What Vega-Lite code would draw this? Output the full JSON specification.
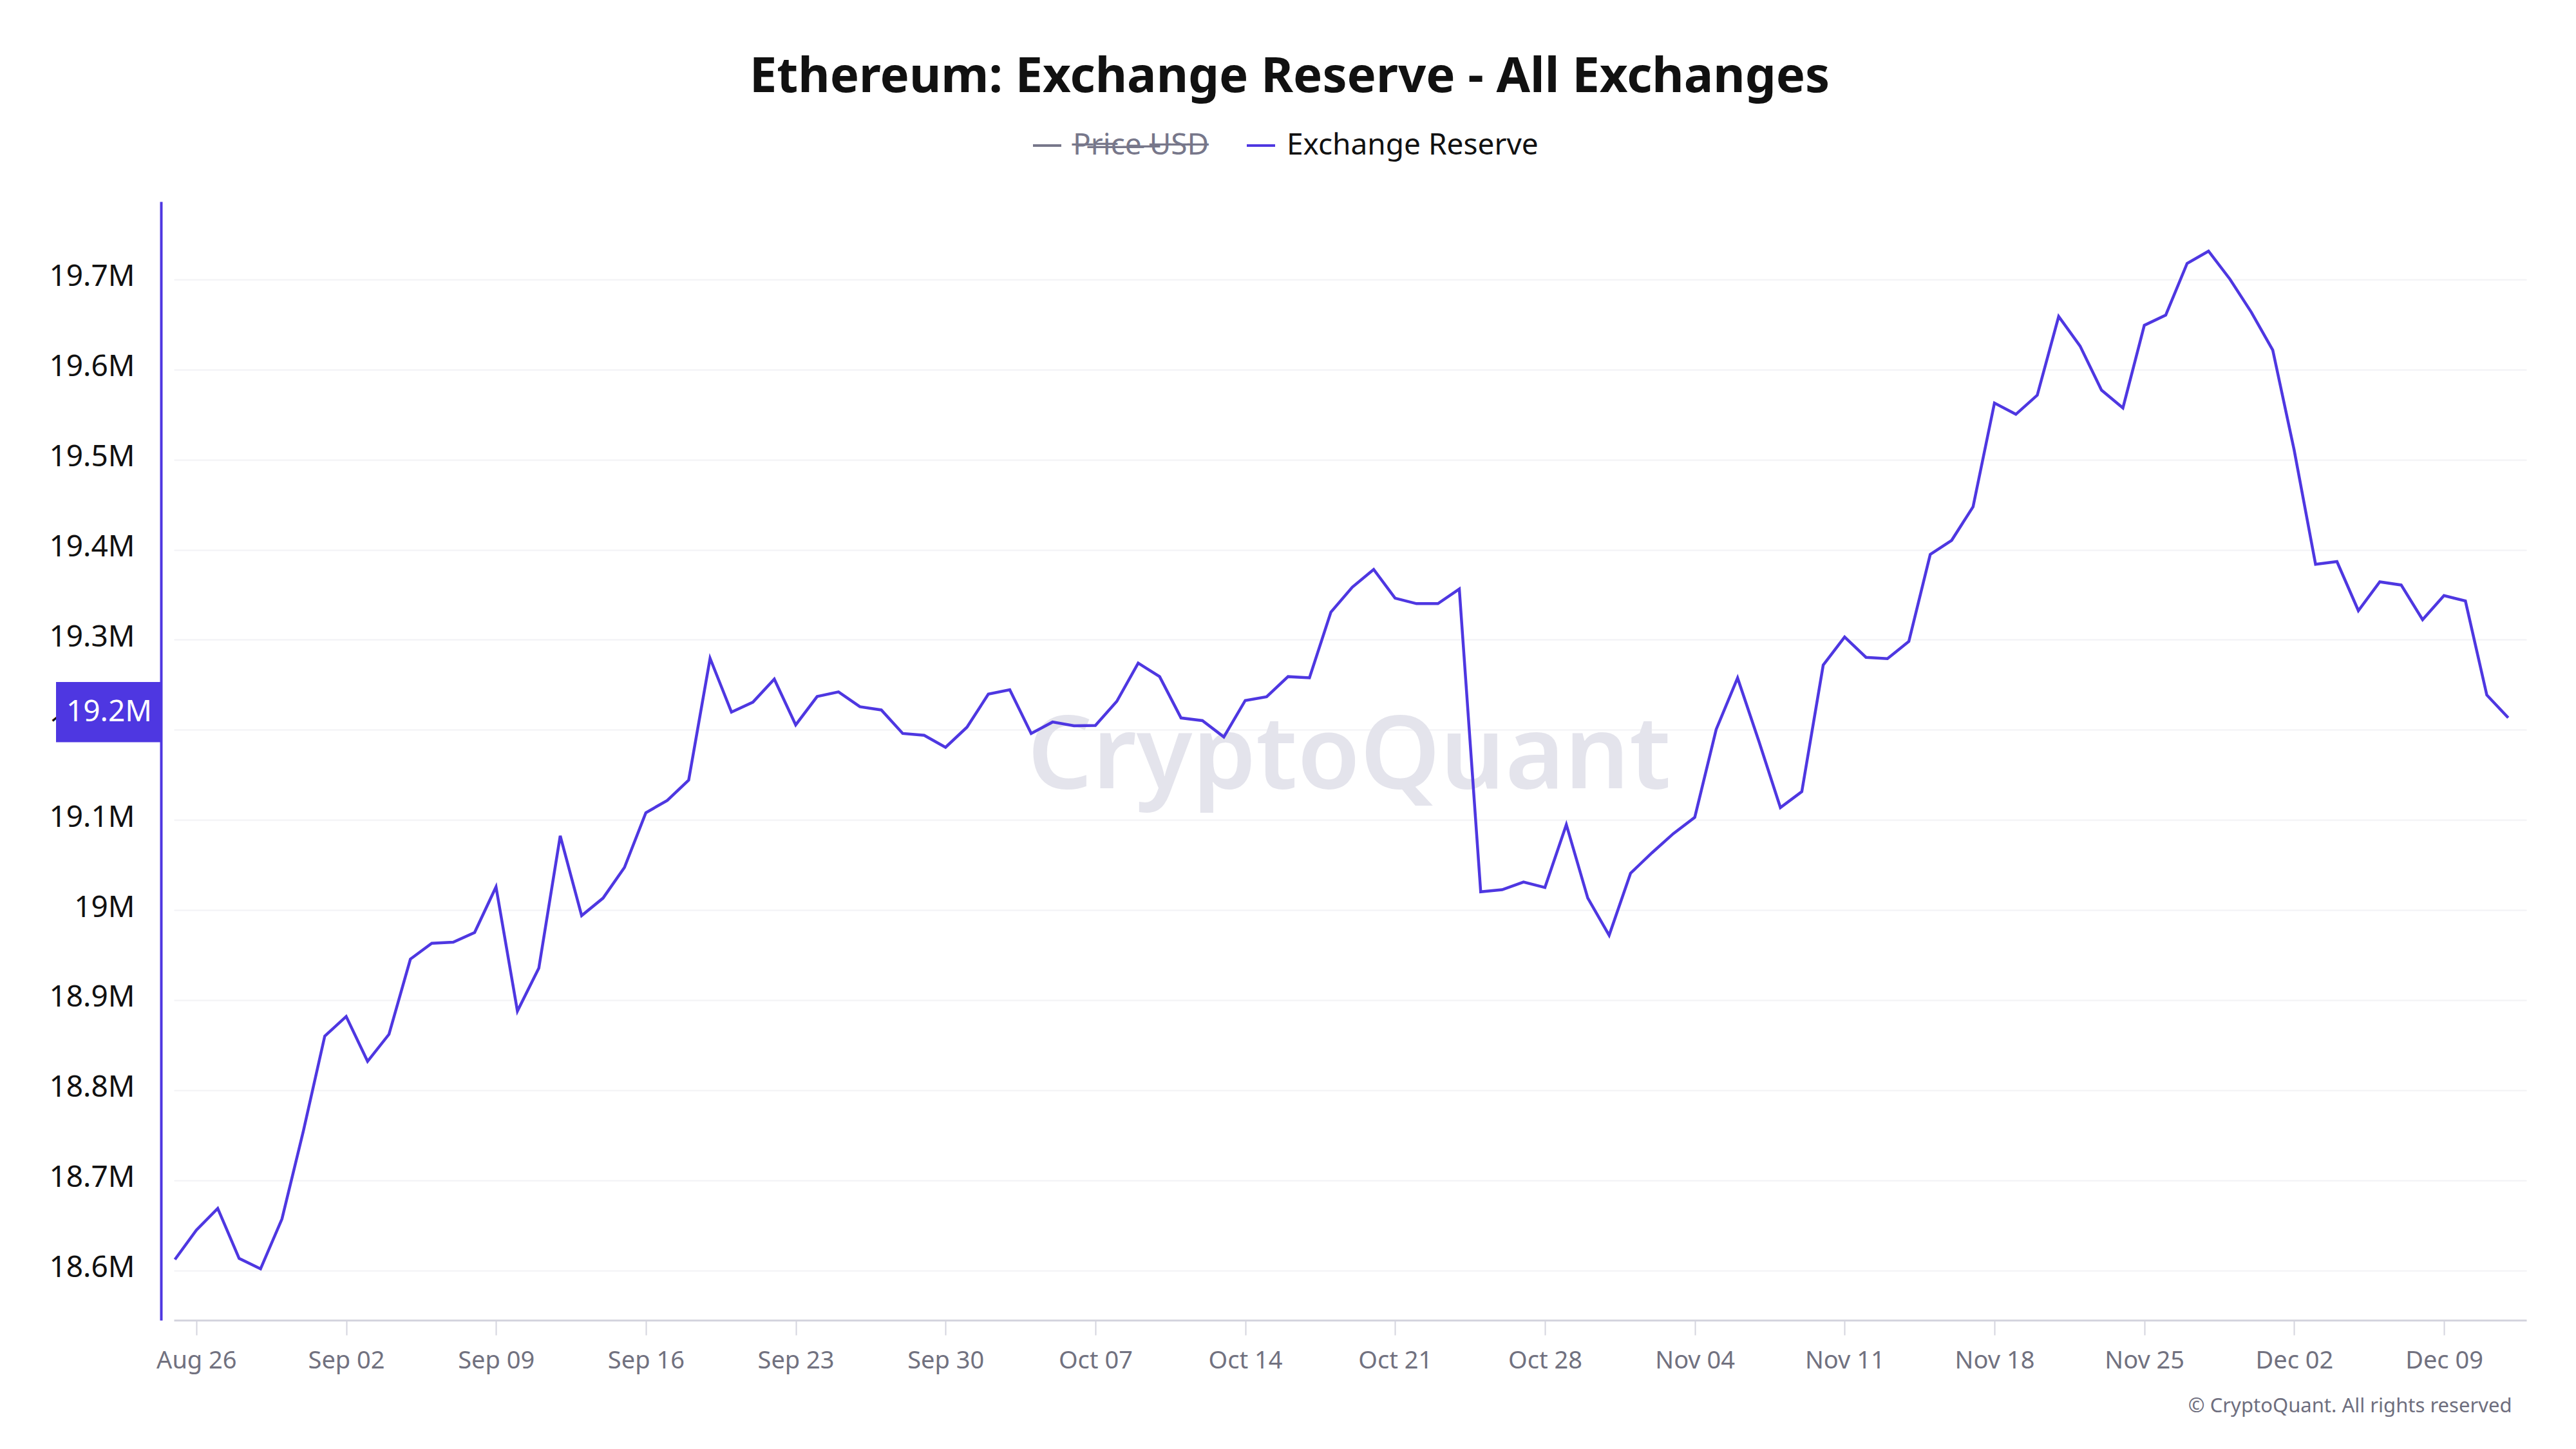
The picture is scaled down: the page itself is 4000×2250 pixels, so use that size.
{
  "$schema": "https://vega.github.io/schema/vega-lite/v6.json",
  "width": 3653,
  "height": 1737,
  "autosize": {"type": "none"},
  "padding": {"left": 270, "top": 313, "right": 77, "bottom": 200},
  "background": "white",
  "config": {"view": {"stroke": null}, "font": "Noto Sans"},
  "title": {
    "text": "Ethereum: Exchange Reserve - All Exchanges",
    "font": "Noto Sans",
    "fontSize": 76,
    "fontWeight": "bold",
    "color": "#111111",
    "anchor": "middle",
    "frame": "group",
    "dx": -94,
    "offset": 43
  },
  "layer": [
    {
      "data": {"values": [{}]},
      "mark": {"type": "text", "text": "CryptoQuant", "font": "Noto Sans", "fontSize": 158, "fontWeight": 600, "color": "#e4e4ec", "align": "center", "baseline": "alphabetic"},
      "encoding": {
        "x": {"datum": {"year": 2024, "month": 10, "date": 18, "hours": 20, "minutes": 32, "utc": true}, "type": "temporal"},
        "y": {"datum": 19135400, "type": "quantitative"}
      }
    },
    {
      "data": {
        "values": [
          {"date": "2024-08-25", "reserve": 18612000},
          {"date": "2024-08-26", "reserve": 18644600},
          {"date": "2024-08-27", "reserve": 18668700},
          {"date": "2024-08-28", "reserve": 18613200},
          {"date": "2024-08-29", "reserve": 18601600},
          {"date": "2024-08-30", "reserve": 18657000},
          {"date": "2024-08-31", "reserve": 18754600},
          {"date": "2024-09-01", "reserve": 18860000},
          {"date": "2024-09-02", "reserve": 18881800},
          {"date": "2024-09-03", "reserve": 18832000},
          {"date": "2024-09-04", "reserve": 18862000},
          {"date": "2024-09-05", "reserve": 18945500},
          {"date": "2024-09-06", "reserve": 18963000},
          {"date": "2024-09-07", "reserve": 18964300},
          {"date": "2024-09-08", "reserve": 18975000},
          {"date": "2024-09-09", "reserve": 19025700},
          {"date": "2024-09-10", "reserve": 18887800},
          {"date": "2024-09-11", "reserve": 18935500},
          {"date": "2024-09-12", "reserve": 19082300},
          {"date": "2024-09-13", "reserve": 18993700},
          {"date": "2024-09-14", "reserve": 19013200},
          {"date": "2024-09-15", "reserve": 19047200},
          {"date": "2024-09-16", "reserve": 19108000},
          {"date": "2024-09-17", "reserve": 19121700},
          {"date": "2024-09-18", "reserve": 19144200},
          {"date": "2024-09-19", "reserve": 19279400},
          {"date": "2024-09-20", "reserve": 19219700},
          {"date": "2024-09-21", "reserve": 19230700},
          {"date": "2024-09-22", "reserve": 19256400},
          {"date": "2024-09-23", "reserve": 19205500},
          {"date": "2024-09-24", "reserve": 19237000},
          {"date": "2024-09-25", "reserve": 19242200},
          {"date": "2024-09-26", "reserve": 19225700},
          {"date": "2024-09-27", "reserve": 19222100},
          {"date": "2024-09-28", "reserve": 19196000},
          {"date": "2024-09-29", "reserve": 19194000},
          {"date": "2024-09-30", "reserve": 19180600},
          {"date": "2024-10-01", "reserve": 19202900},
          {"date": "2024-10-02", "reserve": 19239700},
          {"date": "2024-10-03", "reserve": 19244500},
          {"date": "2024-10-04", "reserve": 19196000},
          {"date": "2024-10-05", "reserve": 19208700},
          {"date": "2024-10-06", "reserve": 19204600},
          {"date": "2024-10-07", "reserve": 19204900},
          {"date": "2024-10-08", "reserve": 19231700},
          {"date": "2024-10-09", "reserve": 19274100},
          {"date": "2024-10-10", "reserve": 19259100},
          {"date": "2024-10-11", "reserve": 19213200},
          {"date": "2024-10-12", "reserve": 19210300},
          {"date": "2024-10-13", "reserve": 19192100},
          {"date": "2024-10-14", "reserve": 19232600},
          {"date": "2024-10-15", "reserve": 19236800},
          {"date": "2024-10-16", "reserve": 19259100},
          {"date": "2024-10-17", "reserve": 19257800},
          {"date": "2024-10-18", "reserve": 19330600},
          {"date": "2024-10-19", "reserve": 19358400},
          {"date": "2024-10-20", "reserve": 19378100},
          {"date": "2024-10-21", "reserve": 19346200},
          {"date": "2024-10-22", "reserve": 19340100},
          {"date": "2024-10-23", "reserve": 19340100},
          {"date": "2024-10-24", "reserve": 19356400},
          {"date": "2024-10-25", "reserve": 19020200},
          {"date": "2024-10-26", "reserve": 19022500},
          {"date": "2024-10-27", "reserve": 19031000},
          {"date": "2024-10-28", "reserve": 19025000},
          {"date": "2024-10-29", "reserve": 19094800},
          {"date": "2024-10-30", "reserve": 19013400},
          {"date": "2024-10-31", "reserve": 18971900},
          {"date": "2024-11-01", "reserve": 19040800},
          {"date": "2024-11-02", "reserve": 19063500},
          {"date": "2024-11-03", "reserve": 19084800},
          {"date": "2024-11-04", "reserve": 19102900},
          {"date": "2024-11-05", "reserve": 19200500},
          {"date": "2024-11-06", "reserve": 19257600},
          {"date": "2024-11-07", "reserve": 19187000},
          {"date": "2024-11-08", "reserve": 19113700},
          {"date": "2024-11-09", "reserve": 19131400},
          {"date": "2024-11-10", "reserve": 19271900},
          {"date": "2024-11-11", "reserve": 19303100},
          {"date": "2024-11-12", "reserve": 19280500},
          {"date": "2024-11-13", "reserve": 19279000},
          {"date": "2024-11-14", "reserve": 19298200},
          {"date": "2024-11-15", "reserve": 19394700},
          {"date": "2024-11-16", "reserve": 19410400},
          {"date": "2024-11-17", "reserve": 19447700},
          {"date": "2024-11-18", "reserve": 19562800},
          {"date": "2024-11-19", "reserve": 19550300},
          {"date": "2024-11-20", "reserve": 19571600},
          {"date": "2024-11-21", "reserve": 19659000},
          {"date": "2024-11-22", "reserve": 19626100},
          {"date": "2024-11-23", "reserve": 19577200},
          {"date": "2024-11-24", "reserve": 19557300},
          {"date": "2024-11-25", "reserve": 19649100},
          {"date": "2024-11-26", "reserve": 19660400},
          {"date": "2024-11-27", "reserve": 19717900},
          {"date": "2024-11-28", "reserve": 19731500},
          {"date": "2024-11-29", "reserve": 19700400},
          {"date": "2024-11-30", "reserve": 19663600},
          {"date": "2024-12-01", "reserve": 19621600},
          {"date": "2024-12-02", "reserve": 19510700},
          {"date": "2024-12-03", "reserve": 19383800},
          {"date": "2024-12-04", "reserve": 19386800},
          {"date": "2024-12-05", "reserve": 19332300},
          {"date": "2024-12-06", "reserve": 19364300},
          {"date": "2024-12-07", "reserve": 19360800},
          {"date": "2024-12-08", "reserve": 19322300},
          {"date": "2024-12-09", "reserve": 19349100},
          {"date": "2024-12-10", "reserve": 19343100},
          {"date": "2024-12-11", "reserve": 19238700},
          {"date": "2024-12-12", "reserve": 19213400}
        ]
      },
      "mark": {"type": "line", "strokeWidth": 4.5, "interpolate": "linear"},
      "encoding": {
        "x": {
          "field": "date",
          "type": "temporal",
          "scale": {
            "type": "utc",
            "domain": [
              {"year": 2024, "month": 8, "date": 24, "hours": 22, "minutes": 50, "utc": true},
              {"year": 2024, "month": 12, "date": 12, "hours": 20, "minutes": 24, "utc": true}
            ]
          },
          "axis": {
            "values": [
              {"year": 2024, "month": 8, "date": 26, "utc": true},
              {"year": 2024, "month": 9, "date": 2, "utc": true},
              {"year": 2024, "month": 9, "date": 9, "utc": true},
              {"year": 2024, "month": 9, "date": 16, "utc": true},
              {"year": 2024, "month": 9, "date": 23, "utc": true},
              {"year": 2024, "month": 9, "date": 30, "utc": true},
              {"year": 2024, "month": 10, "date": 7, "utc": true},
              {"year": 2024, "month": 10, "date": 14, "utc": true},
              {"year": 2024, "month": 10, "date": 21, "utc": true},
              {"year": 2024, "month": 10, "date": 28, "utc": true},
              {"year": 2024, "month": 11, "date": 4, "utc": true},
              {"year": 2024, "month": 11, "date": 11, "utc": true},
              {"year": 2024, "month": 11, "date": 18, "utc": true},
              {"year": 2024, "month": 11, "date": 25, "utc": true},
              {"year": 2024, "month": 12, "date": 2, "utc": true},
              {"year": 2024, "month": 12, "date": 9, "utc": true}
            ],
            "format": "%b %d",
            "labelFont": "Noto Sans",
            "labelFontSize": 38,
            "labelColor": "#71717f",
            "labelPadding": 21,
            "tickColor": "#d4d4de",
            "tickSize": 23,
            "tickWidth": 2,
            "domainColor": "#d4d4de",
            "domainWidth": 3,
            "grid": false,
            "title": "© CryptoQuant. All rights reserved",
            "titleFont": "Noto Sans",
            "titleFontSize": 31,
            "titleFontWeight": "normal",
            "titleColor": "#6e6e7e",
            "titleX": 3630,
            "titleY": 142,
            "titleAlign": "right",
            "titleBaseline": "alphabetic",
            "titleAnchor": "end"
          }
        },
        "y": {
          "field": "reserve",
          "type": "quantitative",
          "scale": {"domain": [18544600, 19786500], "nice": false, "zero": false},
          "axis": {
            "values": [18600000, 18700000, 18800000, 18900000, 19000000, 19100000, 19200000, 19300000, 19400000, 19500000, 19600000, 19700000],
            "format": "~s",
            "labelFont": "Noto Sans",
            "labelFontSize": 46,
            "labelColor": "#111111",
            "labelPadding": 41,
            "labelOffset": -4,
            "ticks": false,
            "tickSize": 0,
            "domainColor": "#4e37e1",
            "domainWidth": 4,
            "offset": 20,
            "grid": true,
            "gridColor": "#f2f2f5",
            "gridWidth": 2,
            "title": null
          }
        },
        "color": {
          "datum": "Exchange Reserve",
          "type": "nominal",
          "scale": {"domain": ["Price USD", "Exchange Reserve"], "range": ["#77778a", "#4e37e1"]},
          "legend": {
            "orient": "none",
            "legendX": 1332,
            "legendY": -111,
            "direction": "horizontal",
            "title": null,
            "padding": 0,
            "symbolType": "stroke",
            "symbolSize": 1936,
            "symbolStrokeWidth": 4,
            "labelFont": "Noto Sans",
            "labelFontSize": 46,
            "labelLimit": 0,
            "labelOffset": 16,
            "columnPadding": 50,
            "labelExpr": "datum.value === 'Price USD' ? 'P\u0336r\u0336i\u0336c\u0336e\u0336 \u0336U\u0336S\u0336D\u0336' : datum.label",
            "encode": {"labels": {"update": {"fill": {"signal": "datum.value === 'Price USD' ? '#77778a' : '#111111'"}}}}
          }
        }
      }
    },
    {
      "data": {"values": [{}]},
      "mark": {"type": "rect", "color": "#4e37e1", "clip": false},
      "encoding": {
        "x": {"datum": {"year": 2024, "month": 8, "date": 19, "hours": 10, "minutes": 42, "utc": true}, "type": "temporal"},
        "x2": {"datum": {"year": 2024, "month": 8, "date": 24, "hours": 8, "minutes": 24, "utc": true}},
        "y": {"datum": 19253100, "type": "quantitative"},
        "y2": {"datum": 19186300}
      }
    },
    {
      "data": {"values": [{}]},
      "mark": {"type": "text", "text": "19.2M", "font": "Noto Sans", "fontSize": 46, "color": "#ffffff", "align": "center", "baseline": "middle", "clip": false},
      "encoding": {
        "x": {"datum": {"year": 2024, "month": 8, "date": 21, "hours": 22, "minutes": 16, "utc": true}, "type": "temporal"},
        "y": {"datum": 19219700, "type": "quantitative"}
      }
    }
  ]
}
